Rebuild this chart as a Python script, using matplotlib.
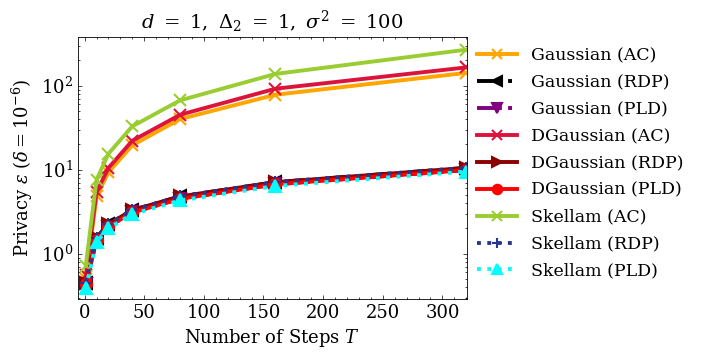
import matplotlib
matplotlib.use("Agg")
import matplotlib.pyplot as plt
from matplotlib.ticker import MultipleLocator

plt.rcParams["font.family"] = "DejaVu Serif"
plt.rcParams["mathtext.fontset"] = "dejavuserif"
plt.rcParams["font.size"] = 13
plt.rcParams["axes.linewidth"] = 0.6
plt.rcParams["xtick.direction"] = "in"
plt.rcParams["ytick.direction"] = "in"
plt.rcParams["xtick.top"] = True
plt.rcParams["ytick.right"] = True
plt.rcParams["xtick.major.size"] = 3
plt.rcParams["ytick.major.size"] = 3
plt.rcParams["xtick.minor.size"] = 1.5
plt.rcParams["ytick.minor.size"] = 1.5
plt.rcParams["xtick.major.width"] = 0.5
plt.rcParams["ytick.major.width"] = 0.5
plt.rcParams["xtick.minor.width"] = 0.5
plt.rcParams["ytick.minor.width"] = 0.5

# number of composition steps
steps = [1, 10, 20, 40, 80, 160, 320]

# privacy loss for each mechanism / accountant
gauss_ac = [0.50, 4.8, 9.3, 19.5, 40, 78, 142]
gauss_rdp = [0.45, 1.55, 2.25, 3.3, 4.8, 7.1, 10.5]
gauss_pld = [0.43, 1.45, 2.1, 3.1, 4.5, 6.7, 9.9]
dgauss_ac = [0.55, 5.4, 10.5, 22.1, 45, 92, 165]
dgauss_rdp = [0.45, 1.55, 2.25, 3.3, 4.8, 7.1, 10.5]
dgauss_pld = [0.43, 1.45, 2.1, 3.1, 4.5, 6.7, 9.9]
skellam_ac = [0.72, 7.6, 15.5, 32.8, 66.8, 138, 268]
skellam_rdp = [0.45, 1.55, 2.25, 3.3, 4.8, 7.1, 10.5]
skellam_pld = [0.39, 1.38, 2.0, 2.95, 4.3, 6.4, 9.5]

series = [
    ("Gaussian (AC)", gauss_ac, "orange", "x", "-"),
    ("Gaussian (RDP)", gauss_rdp, "black", "<", "-."),
    ("Gaussian (PLD)", gauss_pld, "purple", "v", "-."),
    ("DGaussian (AC)", dgauss_ac, "crimson", "x", "-"),
    ("DGaussian (RDP)", dgauss_rdp, "darkred", ">", "-"),
    ("DGaussian (PLD)", dgauss_pld, "red", "o", "-"),
    ("Skellam (AC)", skellam_ac, "yellowgreen", "x", "-"),
    ("Skellam (RDP)", skellam_rdp, "#2a3590", "+", ":"),
    ("Skellam (PLD)", skellam_pld, "cyan", "^", ":"),
]

fig = plt.figure(figsize=(7.02, 3.52), dpi=100)
ax = fig.add_axes([0.111, 0.151, 0.554, 0.744])

for label, vals, color, marker, ls in series:
    ax.plot(steps, vals, label=label, color=color, marker=marker,
            linestyle=ls, linewidth=2.8, markersize=8, markeredgewidth=1.5)

ax.set_yscale("log")
ax.set_xlim(-5.6, 320.5)
ax.set_ylim(0.29, 380)
ax.xaxis.set_major_locator(MultipleLocator(50))
ax.xaxis.set_minor_locator(MultipleLocator(10))

ax.set_title(r"$d\ =\ 1,\ \Delta_2\ =\ 1,\ \sigma^2\ =\ 100$", fontsize=14)
ax.set_xlabel(r"Number of Steps $T$")
ax.set_ylabel(r"Privacy $\varepsilon$ ($\delta=10^{-6}$)")

ax.legend(loc="upper left", bbox_to_anchor=(0.987, 1.02), frameon=False,
          fontsize=12.5, handlelength=2.3, labelspacing=0.57, markerscale=0.85)

fig.savefig("out.png", dpi=100)
